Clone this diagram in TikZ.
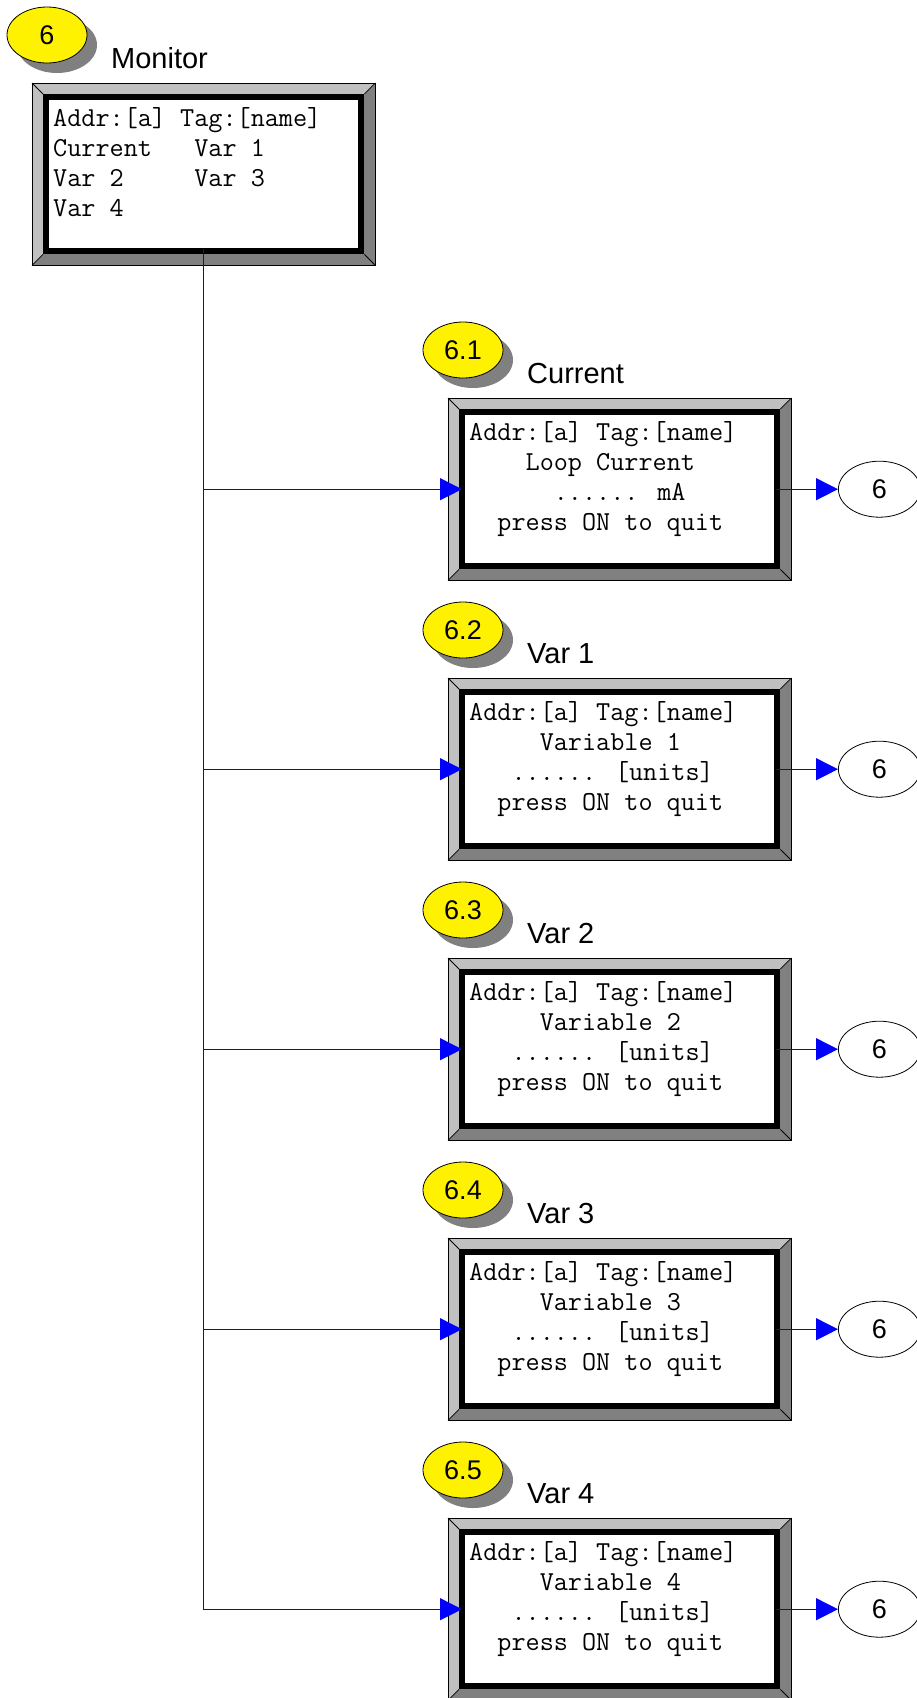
\documentclass[tikz,border=0pt]{standalone}
\usepackage{fontspec}
\setmainfont{Liberation Sans}
\usetikzlibrary{arrows.meta,calc,shapes.geometric,shadows}

\definecolor{bevlight}{HTML}{C0C0C0}
\definecolor{bevdark}{HTML}{808080}

\tikzset{
  lcdbox/.style={minimum width=343, minimum height=182, inner sep=0, anchor=north west},
  lcdtext/.style={anchor=base west, inner sep=0, align=left, font=\ttfamily\fontsize{27.4}{30}\selectfont},
  bubble/.style={ellipse, draw, line width=0.8pt, fill=yellow, minimum width=80, minimum height=56, inner sep=0,
    font=\fontsize{27}{27}\selectfont,
    drop shadow={shadow xshift=10pt, shadow yshift=-10pt, fill=bevdark, opacity=1}},
  retbubble/.style={ellipse, draw, line width=0.8pt, fill=white, minimum width=82, minimum height=56, inner sep=0,
    font=\fontsize{27}{27}\selectfont},
  title/.style={anchor=base west, inner sep=0, font=\fontsize{29}{29}\selectfont},
  wire/.style={draw=blue, line width=1pt, -{Triangle[length=22pt,width=22pt]}}
}

% bevelled LCD frame round a box node
\newcommand\bevel[1]{%
  \fill[bevdark] (#1.north west) rectangle (#1.south east);
  \fill[bevlight] (#1.south west) -- (#1.north west) -- (#1.north east)
    -- ($(#1.north east)+(-11,11)$) -- ($(#1.north west)+(11,11)$) -- ($(#1.south west)+(11,-11)$) -- cycle;
  \draw[line width=0.8pt] (#1.north west) rectangle (#1.south east);
  \foreach \corner/\dx/\dy in {north west/11/11, north east/-11/11, south west/11/-11, south east/-11/-11}
    \draw[line width=0.8pt] (#1.\corner) -- ++(\dx,\dy);
  \fill ($(#1.north west)+(11,11)$) rectangle ($(#1.south east)+(-11,-11)$);
  \fill[white] ($(#1.north west)+(17,17)$) rectangle ($(#1.south east)+(-17,-17)$);
}

\begin{document}
\begin{tikzpicture}[x=1pt, y=-1pt]
\useasboundingbox (0,0) rectangle (917,1698);

% top menu (base anchor = last line)
\node[lcdbox] (mon) at (32,83) {};
\bevel{mon}
\node[lcdtext] (montext) at ($(mon.north west)+(21,133)$)
  {Addr:[a] Tag:[name]\\Current\ \ \ Var 1\\Var 2\ \ \ \ \ Var 3\\Var 4};
\node[bubble] (bub0) at ($(mon.north west)+(15,-48)$) {6};
\node[title] (tit0) at ($(mon.north west)+(79,-15)$) {Monitor};

% sub menus
\foreach \i/\ttl/\num/\lineb/\linec in {
  1/Current/6.1/{\ \ \ \ Loop Current}/{\ \ \ \ \ \ ...... mA},
  2/Var 1/6.2/{\ \ \ \ \ Variable 1}/{\ \ \ ...... [units]},
  3/Var 2/6.3/{\ \ \ \ \ Variable 2}/{\ \ \ ...... [units]},
  4/Var 3/6.4/{\ \ \ \ \ Variable 3}/{\ \ \ ...... [units]},
  5/Var 4/6.5/{\ \ \ \ \ Variable 4}/{\ \ \ ...... [units]}}
{
  \node[lcdbox] (box\i) at (448,{118+280*\i}) {};
  \bevel{box\i}
  \node[lcdtext] (txt\i) at ($(box\i.north west)+(21,132)$)
    {Addr:[a] Tag:[name]\\\lineb\\\linec\\\ \ press ON to quit};
  \node[bubble] (bub\i) at ($(box\i.north west)+(15,-48)$) {\num};
  \node[title] (tit\i) at ($(box\i.north west)+(79,-15)$) {\ttl};
  \node[retbubble] (ret\i) at ($(box\i.east)+(88,0)$) {6};
  \draw[wire] ($(mon.south)+(0,-16)$) |- ($(box\i.west)+(14,0)$);
  \draw[wire] ($(box\i.east)+(-15,0)$) -- (ret\i.west);
}

\end{tikzpicture}
\end{document}
